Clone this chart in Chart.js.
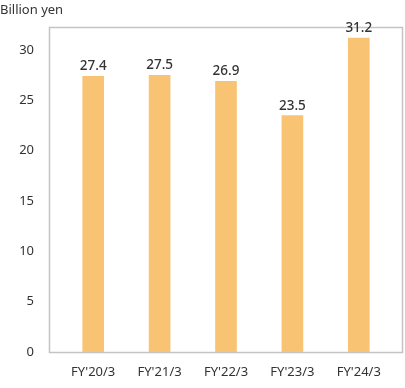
<!DOCTYPE html>
<html><head><meta charset="utf-8">
<script src="https://cdn.jsdelivr.net/npm/chart.js@4/dist/chart.umd.min.js"></script>
<style>html,body{margin:0;padding:0;background:#fff}#wrap{width:405px;height:388px}</style>
</head><body><div id="wrap"><canvas id="c"></canvas></div>
<script>
const categories = ["FY'20/3", "FY'21/3", "FY'22/3", "FY'23/3", "FY'24/3"];
const values = [27.4, 27.5, 26.9, 23.5, 31.2];
const yTicks = [0, 5, 10, 15, 20, 25, 30];
const unitLabel = "Billion yen";

const FONT = "'Noto Sans', sans-serif";
const boxPlugin = {
  id: 'box',
  beforeDatasetsDraw(chart) {
    const a = chart.chartArea, ctx = chart.ctx;
    ctx.save();
    ctx.strokeStyle = '#c4c4c4';
    ctx.lineWidth = 1.5;
    const l = Math.round(a.left - 11) + 0.5, t = Math.round(a.top) + 0.5;
    const r = Math.round(a.right + 11) - 0.5, b = Math.round(a.bottom) + 0.5;
    ctx.strokeRect(l, t, r - l, b - t);
    ctx.restore();
  },
  afterDatasetsDraw(chart) {
    const ctx = chart.ctx;
    ctx.save();
    ctx.fillStyle = '#333';
    ctx.font = "500 13.5px " + FONT;
    ctx.textAlign = 'center';
    ctx.textBaseline = 'bottom';
    chart.getDatasetMeta(0).data.forEach((bar, i) => {
      ctx.fillText(values[i].toFixed(1), bar.x, bar.y - 3);
    });
    ctx.font = "13px " + FONT;
    ctx.textAlign = 'left';
    ctx.textBaseline = 'middle';
    ctx.fillText(unitLabel, 0, 10);
    ctx.restore();
  }
};

new Chart(document.getElementById('c'), {
  type: 'bar',
  data: { labels: categories, datasets: [{ data: values, backgroundColor: '#F8C473', barThickness: 21 }] },
  options: {
    responsive: true, maintainAspectRatio: false, animation: false,
    layout: { padding: { top: 27, right: 13, bottom: 0, left: 0 } },
    plugins: { legend: { display: false }, tooltip: { enabled: false } },
    scales: {
      x: {
        grid: { display: false }, border: { display: false },
        afterFit(s) { s.height = 36; },
        ticks: { color: '#333', font: { family: FONT, size: 13 }, padding: 4, maxRotation: 0 }
      },
      y: {
        min: 0, max: 32.3,
        grid: { display: false }, border: { display: false },
        afterBuildTicks(s) { s.ticks = yTicks.map(v => ({ value: v })); },
        afterFit(s) { s.width = 60; },
        ticks: { color: '#333', font: { family: FONT, size: 13 }, padding: 18 }
      }
    }
  },
  plugins: [boxPlugin]
});
</script></body></html>
